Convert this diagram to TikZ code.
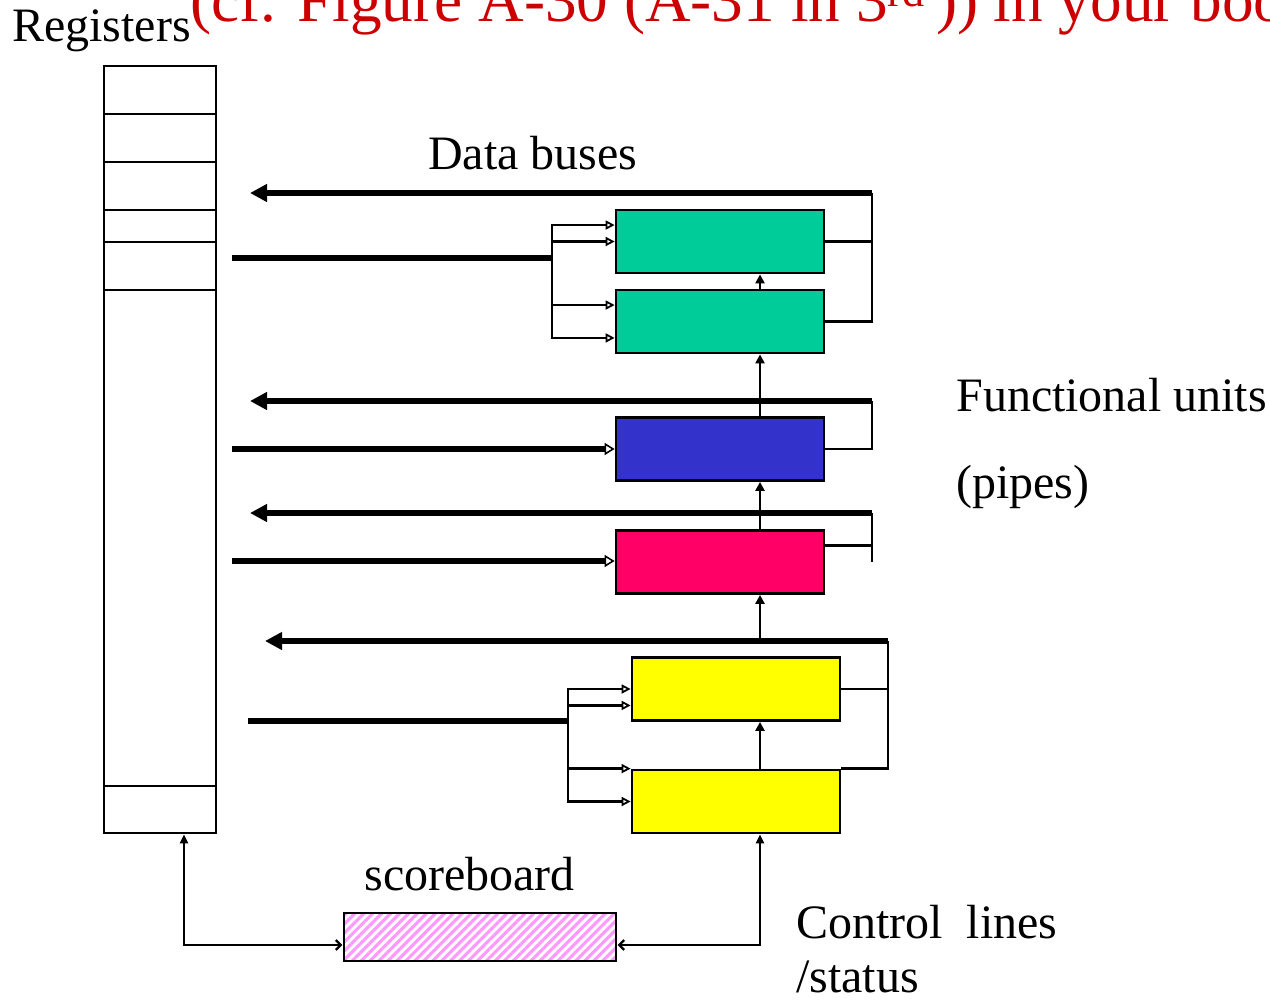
\documentclass[tikz,border=0pt]{standalone}
\usepackage{fontspec}
\setmainfont{Liberation Serif}
\usetikzlibrary{arrows.meta,calc,patterns.meta}
\definecolor{unitgreen}{RGB}{0,204,153}
\definecolor{unitblue}{RGB}{51,51,204}
\definecolor{unitpink}{RGB}{255,0,102}
\definecolor{unityellow}{RGB}{255,255,0}
\definecolor{titlered}{RGB}{204,0,0}
\definecolor{hatchpink}{RGB}{255,153,255}

\begin{document}
\begin{tikzpicture}[
    x=0.02cm, y=-0.02cm,
    unitbox/.style={draw,line width=1.6pt,minimum width=4.16cm,minimum height=1.26cm,inner sep=0pt},
    txt/.style={inner sep=0pt,anchor=base west,font=\fontsize{27.3}{32}\selectfont},
    bus/.style={line width=3.3pt,-{Triangle[length=0.34cm,width=0.34cm]}},
    busin/.style={line width=3.3pt},
    busend/.style={line width=3.3pt,-{Triangle[fill=white,length=0.2cm,width=0.24cm,line width=0.9pt]}},
    wire/.style={line width=1.3pt},
    feed/.style={line width=1.3pt,-{Triangle[fill=white,length=0.18cm,width=0.18cm,line width=1pt]}},
    link/.style={line width=1.3pt,-{Triangle[length=0.18cm,width=0.18cm]}},
]
\useasboundingbox (0,0) rectangle (1270,1000);
\clip (0,0) rectangle (1270,1000);

% Register file
\node[draw,line width=1.6pt,minimum width=2.24cm,minimum height=15.34cm,inner sep=0pt] (reg) at (160,449.5) {};
\foreach \y in {114,162,210,242,290,786}
  \draw[wire] (104,\y) -- (216,\y);

% Functional units
\node[unitbox,fill=unitgreen] (g1) at (720,241.5) {};
\node[unitbox,fill=unitgreen] (g2) at (720,321.5) {};
\node[unitbox,fill=unitblue] (bl) at (720,449) {};
\node[unitbox,fill=unitpink] (pk) at (720,562) {};
\node[unitbox,fill=unityellow] (y1) at (736,689) {};
\node[unitbox,fill=unityellow] (y2) at (736,801.5) {};

% Scoreboard
\node[draw,line width=1.6pt,minimum width=5.44cm,minimum height=0.96cm,inner sep=0pt,
  pattern={Lines[angle=45,distance=3.6pt,line width=1.8pt]},pattern color=hatchpink] (sb) at (480,937) {};

% Labels
\node[txt] (regtxt) at (12,42) {Registers};
\node[txt,font=\fontsize{36}{40}\selectfont,text=titlered] (title) at (190,22) {(cf. Figure A-30 (A-31 in 3\textsuperscript{rd}\,)) in your book};
\node[txt] (bustxt) at (428,170) {Data buses};
\node[txt] (futxt) at (956,411) {Functional units};
\node[txt] (pipetxt) at (956,498) {(pipes)};
\node[txt] (sbtxt) at (364,890) {scoreboard};
\node[txt] (ctltxt) at (796,938) {Control\ \ lines};
\node[txt] (stattxt) at (796,992) {/status};

% Bus end points
\coordinate (b1r) at (872,193); \coordinate (b1l) at (250,193);
\coordinate (b2r) at (872,401); \coordinate (b2l) at (250,401);
\coordinate (b3r) at (872,513); \coordinate (b3l) at (250,513);
\coordinate (b4r) at (888,641); \coordinate (b4l) at (265,641);
\coordinate (in1) at (232,258); \coordinate (s1) at (552,258);
\coordinate (in2) at (232,449);
\coordinate (in3) at (232,561);
\coordinate (in4) at (248,721); \coordinate (s4) at (568,721);
\coordinate (ctl) at (760,945); \coordinate (sl) at (184,945);
\coordinate (pkout) at ($(pk.north east)!0.25!(pk.south east)$);

% Green pipe
\draw[bus] (b1r) -- (b1l);
\draw[wire] (b1r) |- (g2.east);
\draw[wire] (g1.east) -- (g1.east -| b1r);
\draw[busin] (in1) -- (s1);
\draw[feed] (s1) |- ($(g1.north west)!0.25!(g1.south west)$);
\draw[feed] (s1) |- (g1.west);
\draw[feed] (s1) |- ($(g2.north west)!0.25!(g2.south west)$);
\draw[feed] (s1) |- ($(g2.north west)!0.75!(g2.south west)$);

% Blue unit
\draw[bus] (b2r) -- (b2l);
\draw[wire] (b2r) |- (bl.east);
\draw[busend] (in2) -- (bl.west);

% Pink unit
\draw[bus] (b3r) -- (b3l);
\draw[wire] (b3r) -- (b3r |- pk.east);
\draw[wire] (pkout) -- (pkout -| b3r);
\draw[busend] (in3) -- (in3 -| pk.west);

% Yellow pipe
\draw[bus] (b4r) -- (b4l);
\draw[wire] (b4r) |- (y2.north east);
\draw[wire] (y1.east) -- (y1.east -| b4r);
\draw[busin] (in4) -- (s4);
\draw[feed] (s4) |- (y1.west);
\draw[feed] (s4) |- ($(y1.north west)!0.75!(y1.south west)$);
\draw[feed] (s4) |- (y2.north west);
\draw[feed] (s4) |- (y2.west);

% Links between units
\draw[link] (g2.north -| ctl) -- (g1.south -| ctl);
\draw[link] (bl.north -| ctl) -- (g2.south -| ctl);
\draw[link] (pk.north -| ctl) -- (bl.south -| ctl);
\draw[link] (ctl |- b4r) -- (pk.south -| ctl);
\draw[link] (y2.north -| ctl) -- (y1.south -| ctl);

% Control lines
\draw[wire,{Triangle[length=0.18cm,width=0.16cm]}-{Straight Barb[length=0.1cm,width=0.2cm]}] (reg.south -| sl) -- (sl) -- (sl -| sb.west);
\draw[wire,{Triangle[length=0.18cm,width=0.16cm]}-{Straight Barb[length=0.1cm,width=0.2cm]}] (y2.south -| ctl) -- (ctl) -- (ctl -| sb.east);

\end{tikzpicture}
\end{document}
